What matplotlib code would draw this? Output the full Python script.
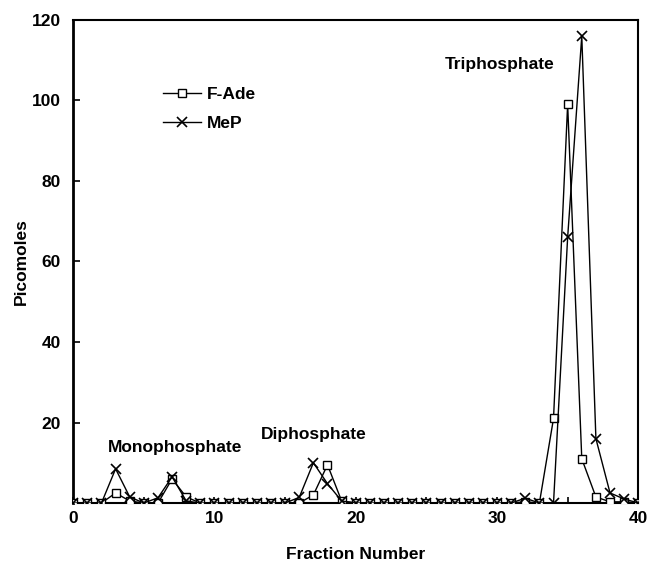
import matplotlib
matplotlib.use("Agg")
import matplotlib.pyplot as plt

plt.rcParams['font.family'] = ['Liberation Sans', 'DejaVu Sans']
plt.rcParams['font.weight'] = 'bold'

fractions = list(range(0, 41))
f_ade = [0, 0, 0, 2.5, 0.5, 0, 0, 6, 1.5, 0,
         0, 0, 0, 0, 0, 0, 0, 2, 9.5, 0.5,
         0, 0, 0, 0, 0, 0, 0, 0, 0, 0,
         0, 0, 0.3, 0, 21, 99, 11, 1.5, 0.3, 0.3,
         0]
mep = [0, 0, 0, 8.5, 1.5, 0, 1.3, 6.5, 0.5, 0,
       0, 0, 0, 0, 0, 0, 1.4, 10, 4.8, 0.5,
       0, 0, 0, 0, 0, 0, 0, 0, 0, 0,
       0, 0, 1.2, 0, 0, 66, 116, 16, 2.5, 1,
       0]
series_names = ["F-Ade", "MeP"]
peak_labels = ["Monophosphate", "Diphosphate", "Triphosphate"]
x_ticks = [0, 10, 20, 30, 40]
y_ticks = [20, 40, 60, 80, 100, 120]

fig = plt.figure(figsize=(6.48, 5.70), dpi=100)
ax = fig.add_axes([0.113, 0.1175, 0.872, 0.8475])

ax.plot(fractions, f_ade, color='black', lw=1.0, marker='s', markersize=6,
        markerfacecolor='white', markeredgecolor='black', markeredgewidth=1.0,
        label=series_names[0], zorder=3)
ax.plot(fractions, mep, color='black', lw=1.0, marker='x', markersize=6.5,
        markeredgewidth=1.2, label=series_names[1], zorder=4)

ax.set_xlim(0, 40)
ax.set_ylim(0, 120)
ax.set_xticks(x_ticks)
ax.set_xticks(range(0, 41, 5), minor=True)
ax.set_yticks(y_ticks)
ax.tick_params(axis='both', which='both', direction='in', labelsize=12.5, width=1.2)
ax.tick_params(axis='y', length=5, pad=9)
ax.tick_params(axis='x', which='both', length=4, pad=6)
for lbl in ax.get_xticklabels() + ax.get_yticklabels():
    lbl.set_fontweight('bold')
for sp in ax.spines.values():
    sp.set_linewidth(1.5)
ax.spines['left'].set_linewidth(2.0)

ax.set_xlabel("Fraction Number", fontsize=12.5, fontweight='bold', labelpad=15)
ax.set_ylabel("Picomoles", fontsize=12.5, fontweight='bold', labelpad=2)

ax.text(7.2, 13.9, peak_labels[0], ha='center', va='center', fontsize=12.5, fontweight='bold')
ax.text(17.0, 16.9, peak_labels[1], ha='center', va='center', fontsize=12.5, fontweight='bold')
ax.text(30.2, 109.0, peak_labels[2], ha='center', va='center', fontsize=12.5, fontweight='bold')

leg = ax.legend(loc='upper left', bbox_to_anchor=(0.159, 0.861), frameon=False,
                handlelength=2.2, handletextpad=0.35, labelspacing=0.8,
                borderpad=0, borderaxespad=0,
                prop={'weight': 'bold', 'size': 12.5})

fig.savefig("out.png", dpi=100)
